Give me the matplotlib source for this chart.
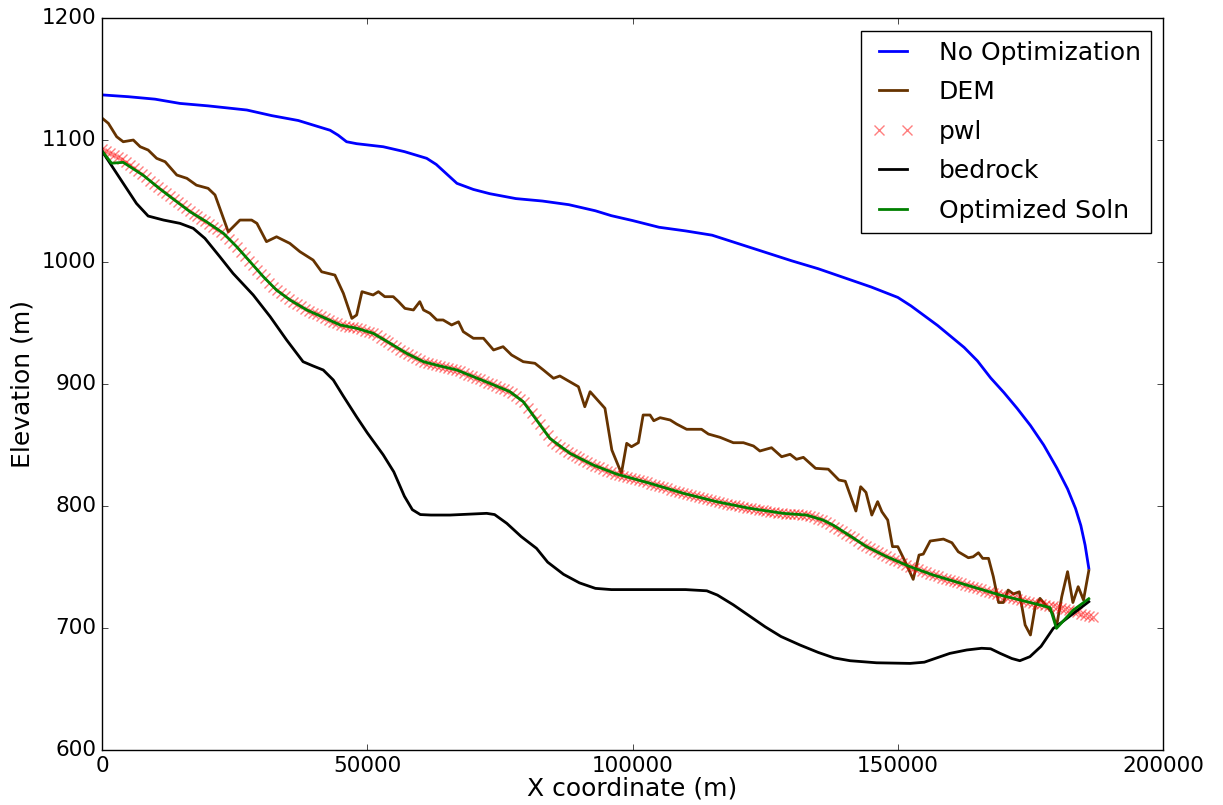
import numpy as np
import matplotlib
matplotlib.use("Agg")
import matplotlib.pyplot as plt

plt.style.use("classic")

# ---------------- data (x in metres, elevation in metres) ----------------
noopt_x = [0, 5000, 10000, 14700, 20000, 27300, 32000, 37000, 43000, 44500, 46100, 48000,
           53000, 57000, 61200, 63000, 66900, 70000, 73100, 78000, 83000, 88000, 93000,
           96000, 100000, 105000, 110000, 115000, 120000, 125000, 130000, 135000, 140000,
           145000, 150000, 152500, 155000, 157500, 160000, 162500, 165000, 167500, 170000,
           172500, 175000, 177500, 180000, 182000, 183500, 184500, 185300, 186000]
noopt_y = [1137, 1135.5, 1133.5, 1130, 1128, 1124.6, 1120, 1116, 1108, 1104, 1098.6, 1097,
           1094.5, 1090.5, 1085, 1080, 1064.5, 1059.5, 1056, 1052, 1050, 1047, 1042,
           1038, 1034, 1028.5, 1025.5, 1022, 1015, 1008, 1001, 994.5, 987,
           979.5, 971, 964, 956, 948, 939, 930, 919, 905, 893,
           880, 866, 850, 831, 814, 798, 784, 768, 749]

dem_x = [0, 1200, 2770, 4000, 5900, 7200, 8700, 10300, 11900, 14100, 16000, 17800, 20000,
         21300, 23800, 26000, 28200, 29200, 31000, 32900, 35400, 37300, 39800, 41400, 43900,
         45500, 47100, 48000, 49000, 51100, 52100, 53300, 54900, 55900, 57100, 58700, 59900,
         60600, 61800, 63100, 64300, 65900, 67200, 68100, 70000, 71900, 73800, 75600, 77200,
         79400, 81600, 83200, 85100, 86300, 89800, 91000, 92000, 94800, 96100, 97900, 98900,
         99800, 101100, 102000, 103300, 104000, 105200, 107100, 108300, 110200, 113000,
         114300, 116500, 119000, 120900, 122800, 124000, 126200, 128100, 129700, 130900,
         132200, 134500, 136900, 138900, 140100, 141600, 142100, 143000, 144000, 145100,
         146200, 147000, 148100, 149000, 150000, 151400, 152900, 154000, 154800, 156100,
         158600, 160200, 161400, 163300, 164200, 165200, 166000, 167100, 168000, 169000,
         169900, 170800, 171800, 172900, 174000, 175000, 175900, 176800, 178100, 179200,
         179900, 180900, 182000, 183000, 184000, 185000, 186000]
dem_y = [1118, 1113.7, 1102.7, 1098.6, 1100, 1094.5, 1091.8, 1085, 1082.2, 1071.3, 1068.6,
         1063, 1060.4, 1055, 1024.8, 1034.4, 1034.4, 1031.7, 1016.7, 1020.7, 1015.3, 1008.5,
         1001.6, 992, 989.3, 974.3, 953.8, 956.6, 975.7, 973, 975.7, 971.6, 971.6, 967.5,
         962, 960.7, 967.5, 960.7, 958, 952.5, 952.5, 948.4, 951, 942.9, 937.5, 937.5,
         927.9, 930.6, 923.8, 918.3, 917, 911.5, 904.7, 906.6, 897.8, 881.4, 893.7, 880.1,
         845.9, 826.8, 851.4, 848.6, 851.9, 874.6, 874.6, 869.9, 872.4, 870.5, 867.2,
         862.9, 862.9, 859, 856.3, 851.9, 851.9, 849.2, 845.1, 847.8, 840.4, 842.4, 838.3,
         839.9, 830.9, 830.2, 821.3, 820.3, 802.2, 795.9, 815.8, 811.2, 792.6, 803.6,
         795.3, 788.5, 766.7, 766.7, 754.3, 739.9, 759.8, 760.6, 771.3, 772.9, 769.9,
         762.5, 757.6, 758.4, 761.7, 757.1, 757.1, 742.2, 720.9, 720.9, 731.1, 727.9,
         729.7, 702.5, 694.3, 717.5, 724.3, 717.5, 712, 701, 725.7, 746.2, 720.9, 733.9,
         723, 747]

pwl_x = np.arange(250) * 750.0
pwl_y = [1093, 1091.2, 1089.4, 1087.7, 1085.9, 1084.1, 1082.3, 1079.9, 1077.3, 1074.7,
         1072.0, 1069.4, 1066.7, 1064.1, 1061.4, 1058.8, 1056.4, 1053.9, 1051.4, 1048.9,
         1046.4, 1044.0, 1041.5, 1039.5, 1037.5, 1035.5, 1033.5, 1031.4, 1029.1, 1026.9,
         1024.7, 1022.0, 1018.7, 1015.4, 1012.0, 1008.4, 1004.7, 1001.0, 997.3, 993.7,
         990.0, 986.5, 983.2, 979.9, 976.7, 974.3, 971.9, 969.5, 967.4, 965.5,
         963.6, 961.6, 959.9, 958.5, 957.0, 955.6, 954.1, 952.6, 951.2, 949.7,
         948.3, 947.7, 947.0, 946.4, 945.7, 944.7, 943.7, 942.7, 941.7, 939.9,
         938.0, 936.1, 934.2, 932.2, 930.2, 928.2, 926.3, 924.4, 922.8, 921.2,
         919.6, 918.1, 917.3, 916.4, 915.6, 914.8, 914.0, 913.2, 912.4, 911.7,
         910.4, 909.1, 907.8, 906.4, 905.1, 903.8, 902.5, 901.2, 899.9, 898.5,
         897.1, 895.8, 894.4, 892.6, 890.1, 887.6, 884.9, 880.4, 875.9, 871.4,
         866.9, 862.4, 857.9, 853.3, 850.8, 848.5, 846.5, 844.5, 842.5, 840.9,
         839.3, 837.6, 836.0, 834.4, 832.9, 831.7, 830.4, 829.1, 827.9, 826.6,
         825.6, 824.7, 823.8, 822.9, 822.0, 821.1, 820.2, 819.3, 818.3, 817.4,
         816.4, 815.4, 814.4, 813.5, 812.5, 811.5, 810.5, 809.7, 808.9, 808.0,
         807.2, 806.4, 805.6, 804.8, 803.9, 803.2, 802.5, 801.9, 801.2, 800.6,
         799.9, 799.3, 798.6, 798.0, 797.5, 797.0, 796.5, 796.0, 795.5, 795.1,
         794.6, 794.1, 793.8, 793.6, 793.3, 793.1, 792.9, 792.6, 791.7, 790.7,
         789.7, 788.7, 787.0, 785.1, 783.2, 781.3, 779.3, 777.4, 775.5, 773.4,
         771.2, 769.1, 767.0, 765.3, 763.7, 762.1, 760.4, 758.8, 757.4, 756.0,
         754.6, 753.2, 751.8, 750.4, 749.2, 748.0, 746.8, 745.6, 744.5, 743.3,
         742.4, 741.4, 740.4, 739.4, 738.4, 737.5, 736.5, 735.5, 734.5, 733.6,
         732.6, 731.6, 730.6, 729.6, 728.7, 727.7, 726.8, 726.0, 725.2, 724.4,
         723.5, 722.7, 721.9, 721.1, 720.3, 719.8, 719.3, 718.8, 718.3, 717.8,
         717.3, 716.4, 715.5, 714.6, 713.7, 712.8, 711.9, 711.0, 710.1, 709.3]

bed_x = [0, 4000, 6500, 8700, 11600, 14700, 17200, 19400, 22200, 24700, 28500, 31700,
         34800, 37900, 39800, 41700, 43600, 45500, 48000, 50000, 53000, 55000, 57000,
         58500, 60000, 62000, 65600, 72500, 74000, 76300, 79000, 81900, 84000, 87000,
         90000, 93000, 96000, 100000, 105000, 110000, 114000, 116000, 119000, 122000,
         125000, 128000, 131600, 135000, 138000, 141000, 146000, 152300, 155000, 157000,
         159800, 163000, 165800, 167500, 169300, 171500, 173000, 174900, 177000, 179300,
         181000, 183100, 186000]
bed_y = [1091, 1064.5, 1048, 1037.7, 1034.4, 1031.7, 1027.6, 1019.4, 1004.4, 990.7, 973,
         955.2, 936.1, 918.3, 914.8, 911.5, 903.3, 890, 873, 860, 842, 828, 808,
         797, 793, 792.6, 792.6, 794, 793, 785.8, 775, 765.3, 754, 744,
         737, 732.5, 731.5, 731.5, 731.5, 731.5, 730.5, 727, 719, 710,
         701, 693, 686, 680, 675.5, 673.2, 671.5, 671, 672, 675,
         679.2, 682, 683.4, 683, 679.2, 675, 673.2, 676.5, 685, 699.7,
         705, 712, 721.6]

opt_x = [0, 1800, 4000, 7800, 10900, 14100, 16600, 19700, 22900, 25400, 27900, 30400,
         32900, 35400, 38600, 41700, 44900, 48000, 51100, 54300, 57400, 60600, 63700,
         66900, 70000, 73100, 76900, 79400, 81900, 84400, 88200, 92600, 97000, 103300,
         109600, 115900, 122100, 128400, 132800, 135900, 137800, 141000, 144100, 147900,
         152300, 156700, 163000, 169300, 175600, 178700, 179900, 183100, 186000]
opt_y = [1091, 1081, 1081.7, 1071, 1060, 1049.4, 1041.2, 1033, 1023.5, 1012.5, 1000.3, 988,
         977, 969, 960.7, 954.7, 948.4, 945.7, 941.6, 933.4, 925.2, 918.3, 914.8,
         911.5, 906, 900.6, 893.7, 885.5, 870.5, 855.5, 843.2, 833.6, 826.2, 818.6,
         810.4, 803.5, 798.1, 794, 792.6, 788.5, 784.4, 775.5, 766.7, 758.5,
         750.3, 743.4, 735.2, 727, 720.2, 716.7, 699.7, 714.8, 724]

# ---------------- figure ----------------
fig = plt.figure(figsize=(12.23, 8.05), dpi=100, facecolor="white")
ax = fig.add_axes([0.0834, 0.0683, 0.8676, 0.9093])
ax.set_facecolor("white")

ax.plot(noopt_x, noopt_y, color="b", lw=2, label="No Optimization")
ax.plot(dem_x, dem_y, color="#663300", lw=2, label="DEM")
ax.plot(pwl_x, pwl_y, "x", color="r", alpha=0.5, ms=7, mew=1, label="pwl")
ax.plot(bed_x, bed_y, color="k", lw=2, label="bedrock")
ax.plot(opt_x, opt_y, color="g", lw=2, label="Optimized Soln")

ax.set_xlim(0, 200000)
ax.set_ylim(600, 1200)
ax.set_xticks([0, 50000, 100000, 150000, 200000])
ax.set_yticks(np.arange(600, 1201, 100))
ax.tick_params(labelsize=15.5)
ax.set_xlabel("X coordinate (m)", fontsize=18, labelpad=1)
ax.set_ylabel("Elevation (m)", fontsize=18, labelpad=5)

leg = ax.legend(loc="upper right", fontsize=18, numpoints=2, handlelength=1.75,
                handletextpad=0.95, borderaxespad=0.5, labelspacing=0.62)
leg.get_frame().set_edgecolor("black")

fig.savefig("out.png", dpi=100, facecolor="white")
